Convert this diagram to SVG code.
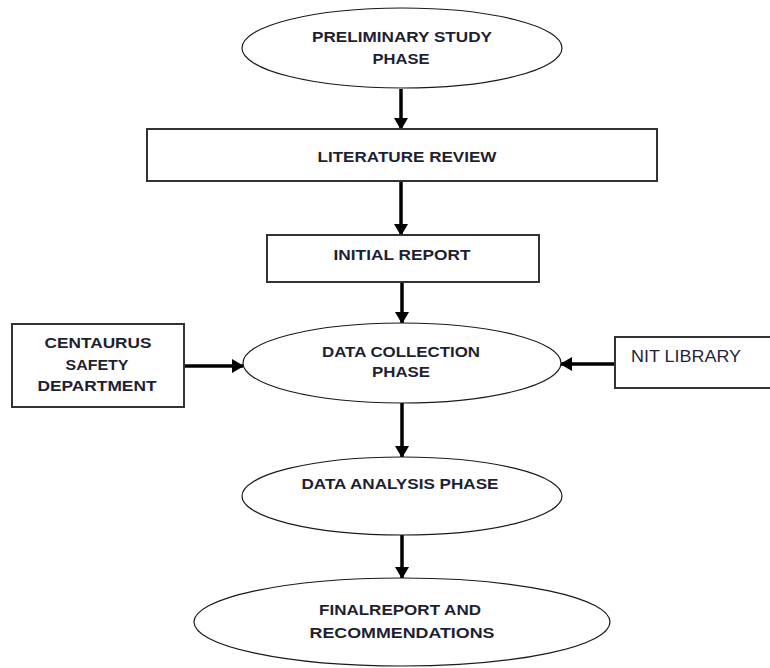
<svg xmlns="http://www.w3.org/2000/svg" width="770" height="668" viewBox="0 0 770 668">
<style>
.el{fill:#fff;stroke:#1a1a1a;stroke-width:1.2}
.bx{fill:#fff;stroke:#333;stroke-width:2}
.t{font-family:"Liberation Sans",Arial,sans-serif;font-weight:bold;font-size:15.5px;fill:#1f1f33;text-anchor:middle}
.n{font-family:"Liberation Sans",Arial,sans-serif;font-size:16px;fill:#2a1f3a}
.c{stroke:#000;stroke-width:3.5;fill:none}
</style>
<defs>
<marker id="ah" markerUnits="userSpaceOnUse" markerWidth="16" markerHeight="14" viewBox="0 0 12 14" refX="11" refY="7" orient="auto">
<path d="M0,0 L12,7 L0,14 Z" fill="#000"/>
</marker>
</defs>
<rect width="770" height="668" fill="#fff"/>
<g id="connectors">
<line class="c" x1="401" y1="89" x2="401" y2="129" marker-end="url(#ah)"/>
<line class="c" x1="401" y1="181" x2="401" y2="235" marker-end="url(#ah)"/>
<line class="c" x1="402" y1="282" x2="402" y2="323" marker-end="url(#ah)"/>
<line class="c" x1="402" y1="403" x2="402" y2="457" marker-end="url(#ah)"/>
<line class="c" x1="402" y1="535" x2="402" y2="578" marker-end="url(#ah)"/>
<line class="c" x1="184" y1="366" x2="243" y2="366" marker-end="url(#ah)"/>
<line class="c" x1="615" y1="364" x2="561" y2="364" marker-end="url(#ah)"/>
</g>
<g id="preliminary">
<ellipse class="el" cx="402" cy="48" rx="160" ry="40"/>
<text class="t" x="402" y="42" textLength="180" lengthAdjust="spacingAndGlyphs">PRELIMINARY STUDY</text>
<text class="t" x="401" y="64" textLength="57" lengthAdjust="spacingAndGlyphs">PHASE</text>
</g>
<g id="literature">
<rect class="bx" x="147" y="129" width="510" height="52"/>
<text class="t" x="407" y="162" textLength="179" lengthAdjust="spacingAndGlyphs">LITERATURE REVIEW</text>
</g>
<g id="initial">
<rect class="bx" x="267" y="235" width="272" height="47"/>
<text class="t" x="402" y="260" textLength="137" lengthAdjust="spacingAndGlyphs">INITIAL REPORT</text>
</g>
<g id="centaurus">
<rect class="bx" x="12" y="324" width="172" height="83"/>
<text class="t" x="98" y="348" textLength="107" lengthAdjust="spacingAndGlyphs">CENTAURUS</text>
<text class="t" x="97" y="370" textLength="63" lengthAdjust="spacingAndGlyphs">SAFETY</text>
<text class="t" x="97" y="391" textLength="119" lengthAdjust="spacingAndGlyphs">DEPARTMENT</text>
</g>
<g id="collection">
<ellipse class="el" cx="402" cy="363" rx="159" ry="40"/>
<text class="t" x="401" y="357" textLength="158" lengthAdjust="spacingAndGlyphs">DATA COLLECTION</text>
<text class="t" x="401" y="377" textLength="58" lengthAdjust="spacingAndGlyphs">PHASE</text>
</g>
<g id="nit">
<rect class="bx" x="615" y="337" width="170" height="51"/>
<text class="n" x="631" y="362" textLength="110" lengthAdjust="spacingAndGlyphs">NIT LIBRARY</text>
</g>
<g id="analysis">
<ellipse class="el" cx="402" cy="496" rx="160" ry="39"/>
<text class="t" x="400" y="489" textLength="197" lengthAdjust="spacingAndGlyphs">DATA ANALYSIS PHASE</text>
</g>
<g id="final">
<ellipse class="el" cx="402" cy="622" rx="208" ry="44"/>
<text class="t" x="400" y="615" textLength="162" lengthAdjust="spacingAndGlyphs">FINALREPORT AND</text>
<text class="t" x="402" y="638" textLength="185" lengthAdjust="spacingAndGlyphs">RECOMMENDATIONS</text>
</g>
</svg>
